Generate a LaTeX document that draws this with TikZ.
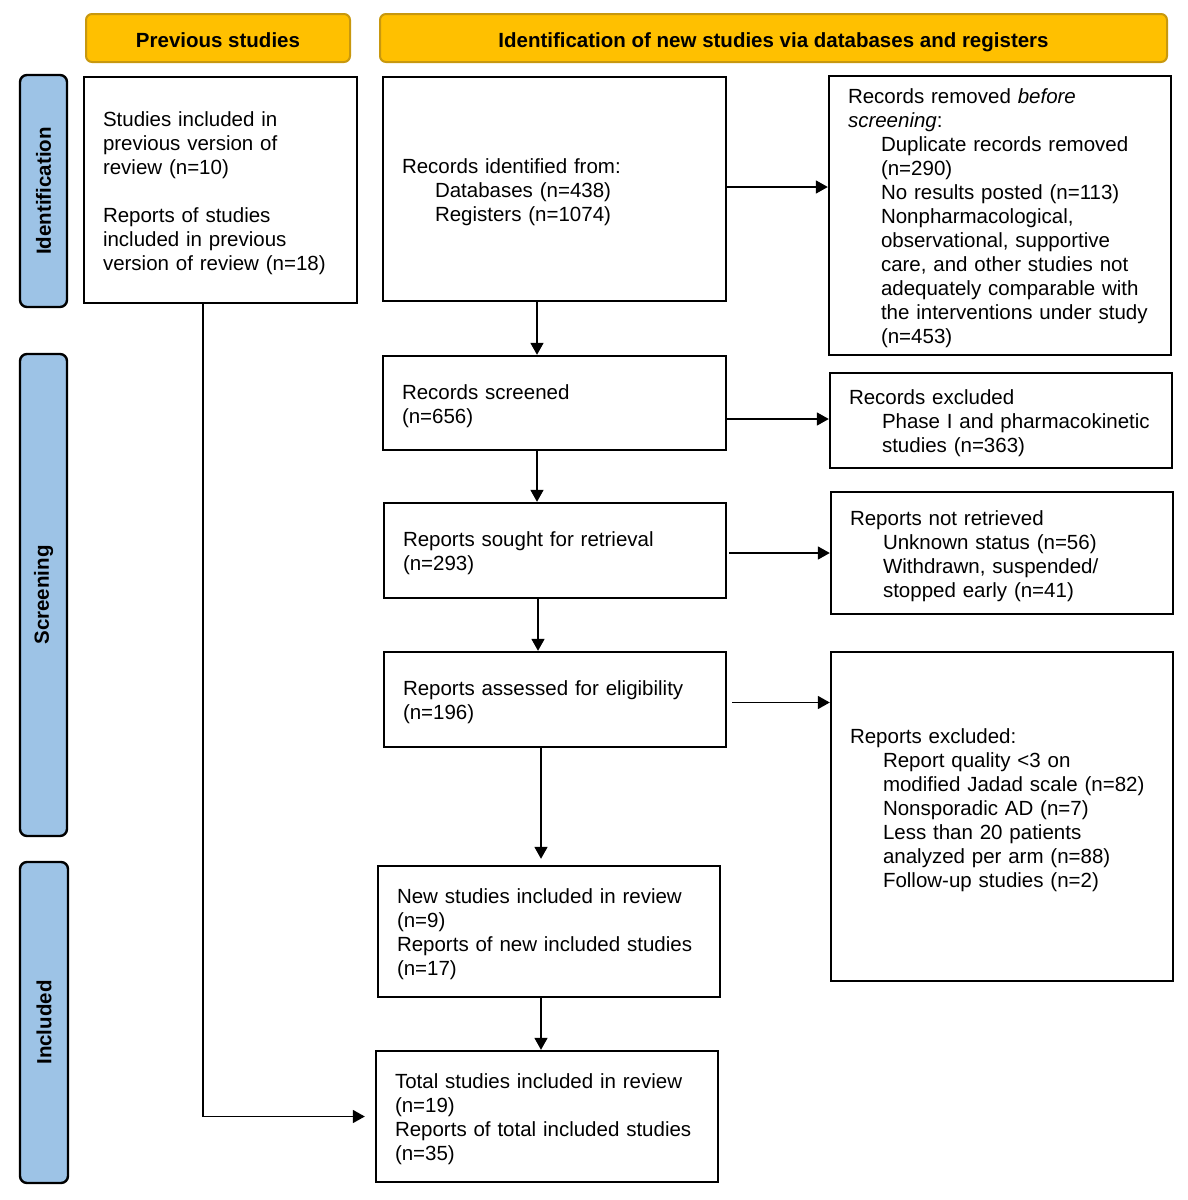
\documentclass[tikz,border=0pt]{standalone}
\usepackage{fontspec}
\setmainfont{Liberation Sans}
\usetikzlibrary{arrows.meta}
\definecolor{gold}{HTML}{FFC000}
\definecolor{golddark}{HTML}{C8980E}
\definecolor{sideblue}{HTML}{9DC3E6}
\begin{document}
\begin{tikzpicture}[x=1pt,y=1pt,
  font=\fontsize{20.5}{24}\selectfont,
  box/.style={draw=black, line width=2.4pt, fill=white, inner xsep=19pt, inner ysep=0pt, align=left, execute at begin node={\rule{0pt}{21pt}}},
  header/.style={draw=golddark, line width=2pt, fill=gold, rounded corners=6pt, font=\fontsize{20.5}{24}\selectfont\bfseries, inner sep=0pt, text height=19pt, text depth=0pt},
  side/.style={draw=black, line width=2.4pt, fill=sideblue, rounded corners=7pt, rotate=90, font=\fontsize{20.5}{24}\selectfont\bfseries, inner sep=0pt},
  arr/.style={line width=1.7pt, -{Triangle[length=12pt,width=13pt]}}]
\useasboundingbox (0,0) rectangle (1188,-1200);
\newcommand{\ind}{\hspace*{33pt}}
% headers
\node[header, minimum width=264, minimum height=48] (h1) at (218,-38) {Previous studies};
\node[header, minimum width=787, minimum height=48] (h2) at (773.5,-38) {Identification of new studies via databases and registers};
% side bars
\node[side, minimum width=232, minimum height=47] (sid) at (43.5,-191) {Identification};
\node[side, minimum width=482, minimum height=47] (ssc) at (43.5,-595) {Screening};
\node[side, minimum width=321, minimum height=48] (sin) at (44,-1022.5) {Included};
% boxes
\node[box, text width=235, minimum height=226] (prev) at (220.5,-190) {Studies included in\\previous version of\\review (n=10)\\[24pt]Reports of studies\\included in previous\\version of review (n=18)};
\node[box, text width=305, minimum height=224] (rec) at (554.5,-189) {Records identified from:\\\ind Databases (n=438)\\\ind Registers (n=1074)};
\node[box, text width=304, minimum height=279] (rem) at (1000,-215.5) {Records removed \textit{before}\\\textit{screening}:\\\ind Duplicate records removed\\\ind (n=290)\\\ind No results posted (n=113)\\\ind Nonpharmacological,\\\ind observational, supportive\\\ind care, and other studies not\\\ind adequately comparable with\\\ind the interventions under study\\\ind (n=453)};
\node[box, text width=305, minimum height=94] (scr) at (554.5,-403) {Records screened\\(n=656)};
\node[box, text width=304, minimum height=95] (exc) at (1001,-420.5) {Records excluded\\\ind Phase I and pharmacokinetic\\\ind studies (n=363)};
\node[box, text width=304, minimum height=95] (sou) at (555,-550.5) {Reports sought for retrieval\\(n=293)};
\node[box, text width=304, minimum height=122] (nr) at (1002,-553) {Reports not retrieved\\\ind Unknown status (n=56)\\\ind Withdrawn, suspended/\\\ind stopped early (n=41)};
\node[box, text width=304, minimum height=95] (ass) at (555,-699.5) {Reports assessed for eligibility\\(n=196)};
\node[box, text width=304, minimum height=329] (rep) at (1002,-816.5) {Reports excluded:\\\ind Report quality <3 on\\\ind modified Jadad scale (n=82)\\\ind Nonsporadic AD (n=7)\\\ind Less than 20 patients\\\ind analyzed per arm (n=88)\\\ind Follow-up studies (n=2)\\\mbox{}};
\node[box, text width=304, minimum height=131] (new) at (549,-931.5) {New studies included in review\\(n=9)\\Reports of new included studies\\(n=17)};
\node[box, text width=304, minimum height=131] (tot) at (547,-1116.5) {Total studies included in review\\(n=19)\\Reports of total included studies\\(n=35)};
% connectors
\draw[arr] ([yshift=2pt]rec.east) -- ([yshift=2pt]rec.east -| rem.west);
\draw[arr] ([xshift=-17.5pt]rec.south) -- ([xshift=-17.5pt]rec.south |- scr.north);
\draw[arr] ([yshift=1.5pt]scr.east |- exc.west) -- ([yshift=1.5pt]exc.west);
\draw[arr] ([xshift=-17.5pt]scr.south) -- ([xshift=-17.5pt]scr.south |- sou.north);
\draw[arr] ([xshift=2pt,yshift=-2.5pt]sou.east) -- ([yshift=-2.5pt]sou.east -| nr.west);
\draw[arr] ([xshift=-17pt]sou.south) -- ([xshift=-17pt]sou.south |- ass.north);
\draw[arr] ([xshift=5pt,yshift=-3pt]ass.east) -- ([yshift=-3pt]ass.east -| rep.west);
\draw[arr, shorten >=6pt] ([xshift=-14pt]ass.south) -- ([xshift=-14pt]ass.south |- new.north);
\draw[arr] ([xshift=-8pt]new.south) -- ([xshift=-8pt]new.south |- tot.north);
\draw[arr, shorten >=10pt] ([xshift=-17.5pt]prev.south) |- (tot.west);
\end{tikzpicture}
\end{document}
